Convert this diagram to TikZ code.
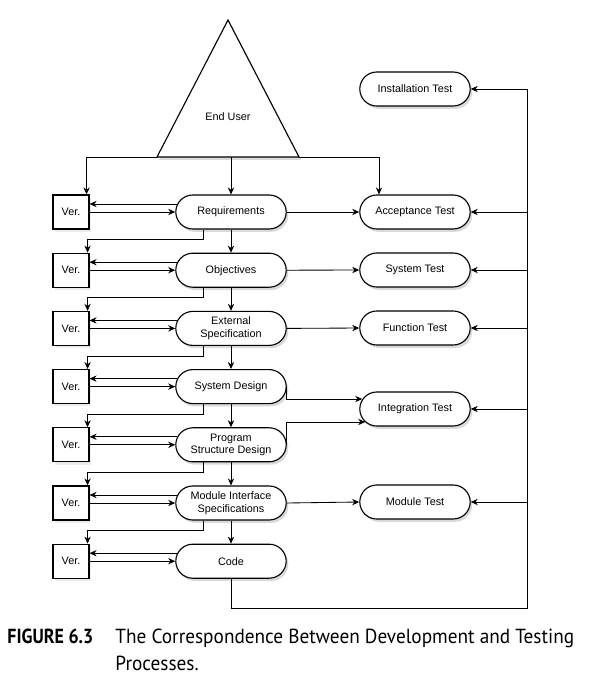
\documentclass[tikz,border=0pt]{standalone}
\usepackage{fontspec}
\setmainfont{Liberation Sans}
\newfontfamily\capfont[FakeStretch=0.945]{PT Sans}
\newfontfamily\capboldfont[FakeStretch=0.88]{PT Sans}
\usetikzlibrary{shapes.misc, shadows, arrows.meta, calc, positioning}

\tikzset{
    proc/.style={rounded rectangle, draw, line width=0.8pt, fill=white, minimum width=2.9cm, minimum height=0.85cm, inner sep=2pt, align=center, font=\fontsize{7.7}{9}\selectfont, drop shadow={opacity=0.3, shadow xshift=1.5pt, shadow yshift=-2pt}},
    verbox/.style={rectangle, draw, line width=0.8pt, fill=white, minimum width=0.9cm, minimum height=0.85cm, inner sep=1pt, font=\fontsize{7.7}{9}\selectfont, drop shadow={opacity=0.15, shadow xshift=1.5pt, shadow yshift=-2pt}},
    capt/.style={anchor=base west, inner sep=0pt, font=\capfont\fontsize{14.5}{17}\selectfont},
    captbold/.style={capt, font=\capboldfont\fontsize{14.5}{17}\selectfont\bfseries}
}

\begin{document}
\begin{tikzpicture}[x=0.025cm, y=-0.025cm, line width=0.6pt, >={Stealth[length=5pt, width=4.5pt]}]

    \useasboundingbox (0,0) rectangle (596,680);

    \pgfmathsetmacro{\rowgap}{58.2} % distance between rows

    % End user
    \filldraw[fill=white, line width=0.8pt, drop shadow={opacity=0.3, shadow xshift=1.5pt, shadow yshift=-2pt}]
        (228,20) coordinate (EUT) -- (299,157) coordinate (EUR) -- (157,157) coordinate (EUL) -- cycle;
    \node[font=\fontsize{7.7}{9}\selectfont] (EU) at (228,117) {End User};

    % Development and verification
    \foreach \i/\txt in {1/Requirements, 2/Objectives, 3/{External\\Specification}, 4/System Design, 5/{Program\\Structure Design}, 6/{Module Interface\\Specifications}, 7/Code}
        {
            \node[proc] (P\i) at (231, {212+\rowgap*(\i-1)}) {\txt};
            \node[verbox] (V\i) at (71, {212+\rowgap*(\i-1)}) {Ver.};
            \draw[->] ($(P\i.west)+(2,-8)$) -- ($(V\i.east)+(0,-8)$);
            \draw[->] (V\i.east) -- (P\i.west);
        }

    \foreach \i [evaluate=\i as \j using int(\i+1)] in {1,...,6}
        {
            \draw[->] (P\i.south) -- (P\j.north);
            \draw[->] ($(P\i.south)+(-28,0)$) -- ++(0,10) -| ($(V\j.north east)+(-2,0)$);
        }

    % Tests
    \foreach \t/\y/\txt in {TI/89/Installation Test, TA/212/Acceptance Test, TS/270/System Test, TF/328/Function Test, TN/409/Integration Test, TM/502/Module Test}
        \node[proc] (\t) at (415,\y) {\txt};

    \draw[->] (EUL) -| ($(V1.north east)+(-3,0)$);
    \draw[->] (P1.north |- EUL) -- (P1.north);
    \draw[->] (EUR) -| ($(TA.north)+(-36,0)$);

    \draw[->] (P1.east) -- (TA.west);
    \draw[->] (P2.east) -- (TS.west);
    \draw[->] (P3.east) -- (TF.west);
    \draw[->] (P4.east) |- ($(TN.west)+(3,-10)$);
    \draw[->] (P5.east) |- ($(TN.west)+(6,13)$);
    \draw[->] (P6.east) -- (TM.west);

    % Code back to the tests
    \coordinate (BT) at (527,89);
    \coordinate (BB) at (527,608);
    \draw (P7.south) |- (BB) -- (BT);
    \foreach \t in {TI,TA,TS,TF,TN,TM}
        \draw[->] (BT |- \t.east) -- (\t.east);

    % Caption
    \node[captbold] (FIG) at (7,643) {FIGURE 6.3};
    \node[capt] (CAP1) at (115,643) {The Correspondence Between Development and Testing};
    \node[capt] (CAP2) at (115,670) {Processes.};

\end{tikzpicture}
\end{document}
